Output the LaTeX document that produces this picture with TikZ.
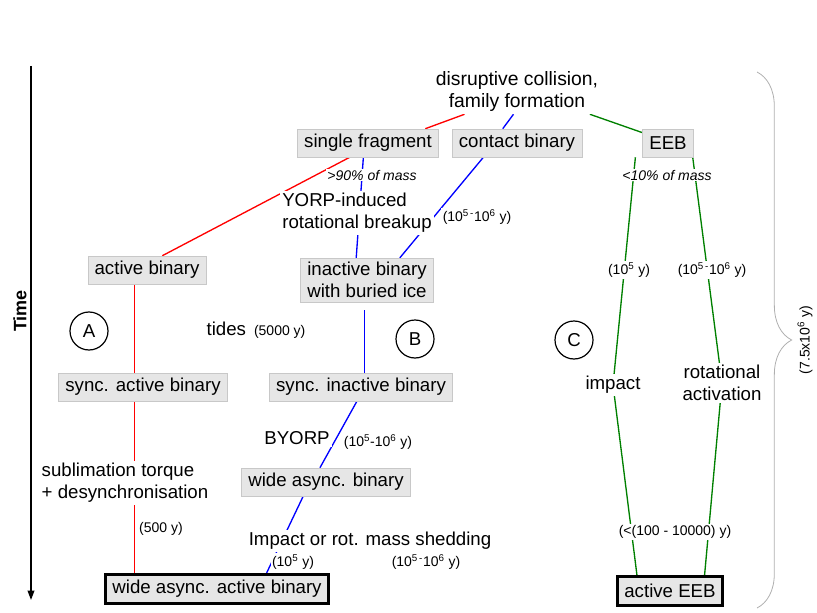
\documentclass[tikz,border=0pt]{standalone}
\usepackage{fontspec}
\setmainfont{Liberation Sans}
\usetikzlibrary{arrows.meta,backgrounds,decorations.pathreplacing}

\definecolor{boxfill}{RGB}{230,230,230}
\definecolor{boxline}{RGB}{200,200,200}
\definecolor{eebgreen}{RGB}{0,128,0}
\definecolor{bracegray}{RGB}{175,175,175}

\newcommand{\yrs}[1]{{\fontsize{10.5}{12}\selectfont #1}}

\tikzstyle{stagebox} = [draw=boxline, fill=boxfill, font=\fontsize{14}{16.5}\selectfont, inner xsep=5pt, inner ysep=3pt, minimum height=21pt, align=center]
\tikzstyle{endbox} = [stagebox, draw=black, line width=2.2pt, minimum height=22pt]
\tikzstyle{lbl} = [fill=white, inner sep=1.5pt, font=\fontsize{14}{16.5}\selectfont]
\tikzstyle{tlbl} = [fill=white, inner sep=1pt, font=\fontsize{10.5}{12}\selectfont]
\tikzstyle{flbl} = [fill=white, inner sep=1pt, font=\fontsize{10.5}{12}\selectfont\itshape]
\tikzstyle{phase} = [circle, draw, line width=0.9pt, minimum size=28.5pt, inner sep=0pt, font=\fontsize{14}{16}\selectfont]
\tikzstyle{redline} = [draw=red, line width=1pt]
\tikzstyle{blueline} = [draw=blue, line width=1pt]
\tikzstyle{greenline} = [draw=eebgreen, line width=1pt]

\begin{document}
\begin{tikzpicture}[x=0.75pt, y=-0.75pt]
\useasboundingbox (0,0) rectangle (817,613);
%time axis
\coordinate (ttop) at (31,66);
\coordinate (tbot) at (31,600);
\draw[line width=1.1pt, -{Triangle[length=7pt,width=5pt]}] (ttop) -- (tbot);
\node[rotate=90, font=\fontsize{13.5}{16}\selectfont\bfseries] (time) at (20,311) {Time};
%begin origin
\node[lbl, align=center, font=\fontsize{14.5}{16.5}\selectfont] (coll) at (517,92) {disruptive collision,\\family formation};
\node[stagebox] (sfrag) at (368,143) {single fragment};
\node[stagebox] (cbin) at (517,143) {contact binary};
\node[stagebox] (eeb) at (668,143) {EEB};
\node[flbl] (frac90) at (372,175) {>90\% of mass};
\node[flbl] (frac10) at (667,175) {<10\% of mass};
%end origin
%begin path A
\node[stagebox] (abin) at (147,270) {active binary};
\node[phase] (circA) at (89,331) {A};
\node[stagebox] (sabin) at (143,387) {sync. active binary};
\node[lbl, align=left] (subl) at (125,483) {sublimation torque\\+ desynchronisation};
\node[tlbl] (tsubl) at (161,529) {(500 y)};
%end path A
%begin path B
\node[lbl, align=left] (yorp) at (357,213) {YORP-induced\\rotational breakup};
\node[tlbl] (tyorp) at (477,217) {(10\textsuperscript{5\,-}10\textsuperscript{6} y)};
\node[stagebox] (ibin) at (367,280) {inactive binary\\with buried ice};
\node[lbl] (tides) at (256,330) {tides\hspace{6pt}\yrs{(5000 y)}};
\node[phase] (circB) at (415,339) {B};
\node[stagebox] (sibin) at (361,387) {sync. inactive binary};
\node[lbl] (byorp) at (297,438) {BYORP};
\node[tlbl] (tbyorp) at (378,442) {(10\textsuperscript{5}-10\textsuperscript{6} y)};
\node[stagebox] (wbin) at (326,482) {wide async. binary};
\node[lbl] (shed) at (370,541) {Impact or rot. mass shedding};
\node[tlbl] (tshedi) at (293,562) {(10\textsuperscript{5} y)};
\node[tlbl] (tshedr) at (426,562) {(10\textsuperscript{5\,-}10\textsuperscript{6} y)};
\node[endbox] (wabin) at (217,589) {wide async. active binary};
%end path B
%begin path C
\node[tlbl] (timp) at (629,270) {(10\textsuperscript{5} y)};
\node[tlbl] (trot) at (712,270) {(10\textsuperscript{5\,-}10\textsuperscript{6} y)};
\node[phase] (circC) at (574,340) {C};
\node[lbl] (impact) at (613,385) {impact};
\node[lbl, align=center] (rotact) at (722,383) {rotational\\activation};
\node[tlbl] (tact) at (675,532) {(<(100 - 10000) y)};
\node[endbox] (aeeb) at (670,591) {active EEB};
%end path C
%total time
\coordinate (btop) at (757,72);
\coordinate (bbot) at (757,608);
\draw[bracegray, line width=0.6pt, decorate, decoration={brace, amplitude=26pt}] (btop) -- (bbot);
\node[tlbl, rotate=90] (tbrace) at (805,340) {(7.5x10\textsuperscript{6} y)};
%begin connectors
\begin{scope}[on background layer]
\draw[redline] (coll.203) -- (sfrag.14);
\draw[blueline] (coll.261) -- (cbin.135);
\draw[greenline] (coll.343) -- (eeb.158);
\draw[redline] (sfrag.218) -- (abin.43);
\draw[blueline] (sfrag.252) -- (ibin.116);
\draw[blueline] (cbin.203) -- (ibin.34);
\draw[redline] (abin.229) -- (abin.229 |- sabin.north);
\draw[redline] (sabin.240) -- (sabin.240 |- wabin.north);
\draw[blueline, shorten <=6pt] (ibin.264) -- (ibin.264 |- sibin.north);
\draw[blueline] (sibin.254) -- (wbin.113);
\draw[blueline] (wbin.212) -- (wabin.18);
\draw[greenline] (eeb.south west) ++(-7,0) -- (impact.center) -- (aeeb.154);
\draw[greenline] (eeb.330) -- (rotact.center) -- (aeeb.25);
\end{scope}
%end connectors
\end{tikzpicture}
\end{document}
